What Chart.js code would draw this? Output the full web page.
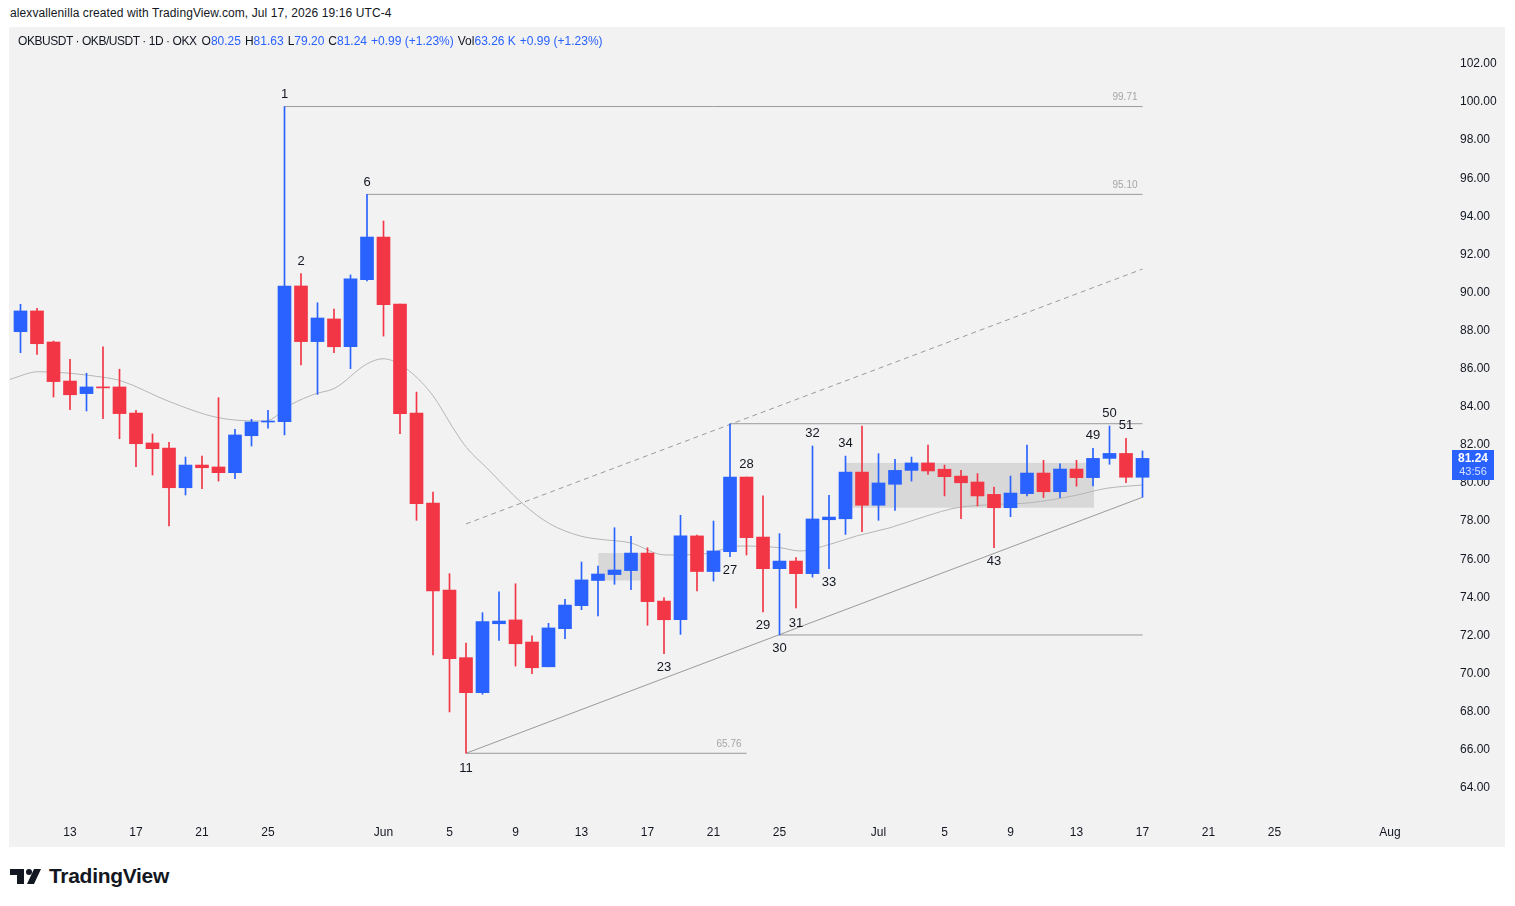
<!DOCTYPE html>
<html><head><meta charset="utf-8">
<script src="https://cdn.jsdelivr.net/npm/chart.js@4.4.1/dist/chart.umd.min.js"></script>
<style>
html,body{margin:0;padding:0;background:#fff;}
body{width:1515px;height:906px;position:relative;overflow:hidden;font-family:"Liberation Sans",Arial,sans-serif;}
#credit{position:absolute;left:10px;top:6px;font-size:12px;color:#131722;white-space:pre;letter-spacing:0.1px;}
#panel{position:absolute;left:9px;top:27px;width:1496px;height:820px;background:#f2f2f2;}
#panel canvas{position:absolute;left:0;top:0;}
#legend{position:absolute;left:9px;top:7px;font-size:12px;color:#131722;white-space:pre;z-index:2;}
#legend .sym{letter-spacing:-0.45px;}
#legend .g{margin-left:5px;}
#legend .g2{margin-left:4px;}
.v{color:#2962ff;}
#logo{position:absolute;left:10px;top:864px;height:24px;display:flex;align-items:center;}
#logo span{font-size:21px;font-weight:bold;color:#131722;margin-left:7px;letter-spacing:-0.3px;}
</style></head>
<body>
<div id="credit">alexvallenilla created with TradingView.com, Jul 17, 2026 19:16 UTC-4</div>
<div id="panel">
  <canvas id="c" width="1496" height="820"></canvas>
  <div id="legend"><span class="sym">OKBUSDT · OKB/USDT · 1D · OKX</span><span class="g">O<span class="v">80.25</span></span><span class="g2">H<span class="v">81.63</span></span><span class="g2">L<span class="v">79.20</span></span><span class="g2">C<span class="v">81.24</span></span><span class="g2 v">+0.99 (+1.23%)</span><span class="g2">Vol<span class="v">63.26 K</span></span><span class="g2 v">+0.99 (+1.23%)</span></div>
</div>
<div id="logo"><svg width="32" height="17" viewBox="0 0 32 17"><rect x="0" y="1" width="14" height="6" fill="#131722"/><rect x="7" y="1" width="7" height="15" fill="#131722"/><circle cx="19" cy="4" r="3" fill="#131722"/><polygon points="24,1 31,1 24,16 17,16" fill="#131722"/></svg><span>TradingView</span></div>
<script>
// ---- data ----
const dates = ['May 10','May 11','May 12','May 13','May 14','May 15','May 16','May 17','May 18','May 19','May 20','May 21','May 22','May 23','May 24','May 25','May 26','May 27','May 28','May 29','May 30','May 31',
 'Jun 1','Jun 2','Jun 3','Jun 4','Jun 5','Jun 6','Jun 7','Jun 8','Jun 9','Jun 10','Jun 11','Jun 12','Jun 13','Jun 14','Jun 15','Jun 16','Jun 17','Jun 18','Jun 19','Jun 20','Jun 21','Jun 22','Jun 23','Jun 24','Jun 25','Jun 26','Jun 27','Jun 28','Jun 29','Jun 30',
 'Jul 1','Jul 2','Jul 3','Jul 4','Jul 5','Jul 6','Jul 7','Jul 8','Jul 9','Jul 10','Jul 11','Jul 12','Jul 13','Jul 14','Jul 15','Jul 16','Jul 17'];
const open  = [87.89,88.98,87.35,85.30,84.64,84.99,84.99,83.62,82.05,81.78,79.70,80.89,80.79,80.49,82.43,83.15,83.17,90.29,87.37,88.56,87.10,90.62,
 92.86,89.34,83.62,78.90,74.33,70.78,68.94,72.56,72.76,71.60,70.30,72.30,73.51,74.83,75.14,75.35,76.27,73.75,72.77,77.17,75.30,76.34,80.26,77.11,75.45,75.85,75.19,78.02,78.07,80.52,
 78.78,79.88,80.61,81.00,80.67,80.31,80.00,79.35,78.65,79.39,80.47,79.49,80.68,80.23,81.24,81.50,80.25];
const high  = [89.33,89.12,87.40,86.44,85.71,87.09,85.92,83.76,82.52,82.08,81.31,81.36,84.43,82.77,83.29,83.76,99.71,90.94,89.41,89.08,90.87,95.10,
 93.70,89.34,84.72,79.47,75.19,71.55,73.14,74.24,74.66,71.92,72.58,73.84,75.80,75.59,77.60,77.15,76.55,73.93,78.25,77.22,77.95,83.06,80.26,79.27,77.29,76.03,81.89,79.30,81.36,82.94,
 81.49,81.19,81.31,81.94,80.89,80.61,80.44,79.74,80.31,81.94,81.14,80.96,81.14,81.77,82.94,82.29,81.63];
const low   = [86.79,86.70,84.46,83.80,83.73,83.32,82.27,80.80,80.37,77.69,79.32,79.65,80.05,80.17,81.89,82.82,82.47,86.14,84.60,86.79,85.95,90.55,
 87.66,82.54,77.99,70.92,67.93,65.76,68.86,71.69,70.34,69.94,70.30,71.77,73.30,72.97,74.63,74.35,72.48,70.99,72.00,74.28,74.80,76.08,76.17,73.18,71.97,73.39,75.01,75.45,77.25,77.39,
 77.99,78.51,80.05,80.40,79.27,78.07,78.74,76.55,78.18,79.27,79.18,79.18,79.78,79.79,80.93,79.96,79.20];
const close = [88.98,87.26,85.27,84.58,84.99,84.94,83.59,82.01,81.75,79.70,80.89,80.75,80.49,82.47,83.15,83.20,90.29,87.37,88.61,87.10,90.66,92.86,
 89.31,83.59,78.86,74.28,70.72,68.94,72.67,72.70,71.51,70.25,72.34,73.54,74.86,75.17,75.38,76.27,73.72,72.77,77.17,75.30,76.38,80.26,77.08,75.45,75.85,75.19,78.06,78.16,80.52,78.78,
 79.95,80.61,81.00,80.58,80.28,79.96,79.27,78.65,79.42,80.47,79.49,80.68,80.23,81.24,81.50,80.25,81.24];
const firstDay = -3;            // day number of the first candle (May 13 = 0)
const xTickDays   = [0,4,8,12,19,23,27,31,35,39,43,49,53,57,61,65,69,73,80];
const xTickLabels = ['13','17','21','25','Jun','5','9','13','17','21','25','Jul','5','9','13','17','21','25','Aug'];
const yTicks = [64,66,68,70,72,74,76,78,80,82,84,86,88,90,92,94,96,98,100,102];
// moving average
const maDays   = [-3.64,-1.92,1.92,3.13,5.94,8.97,11.82,13.44,14.85,16.06,17.98,18.97,20.30,21.92,23.33,24.04,25.25,27.45,29.09,30.91,32.12,33.94,36.06,38.36,40.6,43.03,44.24,46.06,47.68,49.7,51.92,53.74,56.36,58.18,60.79,62.83,64.95];
const maValues = [85.39,85.79,85.51,85.30,84.25,83.38,83.20,84.09,84.62,84.93,86.19,86.47,86.00,84.62,82.68,81.80,80.75,78.85,77.80,77.17,76.99,76.81,76.17,76.22,76.64,76.55,76.38,76.73,77.17,77.60,78.22,78.65,78.83,78.91,79.27,79.67,79.84];
// drawings
const levelPrices = [99.71, 95.10, 65.76, 83.06, 71.97];
const levelFrom   = [13, 18, 24, 40, 43];
const levelTo     = [65, 65, 41, 65, 65];
const levelTagged = [true, true, true, false, false];
const supportLine = [[24, 65.76], [65, 79.20]];
const channelLine = [[24, 77.80], [65, 91.18]];
const boxDays   = [[32.02, 34.6], [47.03, 62.06]];
const boxPrices = [[74.83, 76.27], [78.65, 81.00]];
const markTexts  = ['1','2','6','11','23','27','28','29','30','31','32','33','34','43','49','50','51'];
const markDays   = [13,14,18,24,36,40,41,42,43,44,45,46,47,56,62,63,64];
const markPrices = [100.37,91.60,95.75,64.99,70.29,75.38,80.94,72.49,71.29,72.60,82.57,74.75,82.05,75.85,82.47,83.62,82.99];
const lastPrice = 81.24, countdown = '43:56';

// ---- chart ----
const UP = '#2962ff', DOWN = '#f23645', GREY = '#9a9a9a';
const colors = open.map((o,i) => close[i] >= o ? UP : DOWN);
const xs = dates.map((_,i) => i + firstDay);

const lineDs = (pts, extra) => Object.assign({
  type:'line', data: pts.map(p => ({x:p[0], y:p[1]})), borderColor: GREY, borderWidth:1,
  pointRadius:0, fill:false, tension:0, order:3 }, extra || {});

const datasets = [
  { type:'bar', data: xs.map((x,i)=>({x, y:[open[i], close[i]]})), backgroundColor: colors,
    barThickness:13, grouped:false, minBarLength:1, borderWidth:0, order:0 },
  { type:'bar', data: xs.map((x,i)=>({x, y:[low[i], high[i]]})), backgroundColor: colors,
    barThickness:1, grouped:false, borderWidth:0, order:1 },
  { type:'line', data: maDays.map((d,i)=>({x:d, y:maValues[i]})), borderColor:'#b5b5b5', borderWidth:1,
    pointRadius:0, fill:false, cubicInterpolationMode:'monotone', order:4 },
  lineDs(supportLine),
  lineDs(channelLine, {borderDash:[5,4]}),
];
levelPrices.forEach((p,i) => datasets.push(lineDs([[levelFrom[i], p], [levelTo[i], p]])));

const drawings = {
  id:'drawings',
  beforeDatasetsDraw(chart){
    const {ctx, scales:{x, y}} = chart;
    ctx.save();
    ctx.fillStyle = 'rgba(190,190,190,0.5)';
    boxDays.forEach((d,i) => {
      const x0 = x.getPixelForValue(d[0]), x1 = x.getPixelForValue(d[1]);
      const y0 = y.getPixelForValue(boxPrices[i][1]), y1 = y.getPixelForValue(boxPrices[i][0]);
      ctx.fillRect(x0, y0, x1 - x0, y1 - y0);
    });
    ctx.restore();
  },
  afterDatasetsDraw(chart){
    const {ctx, scales:{x, y}} = chart;
    ctx.save();
    ctx.fillStyle = '#131722';
    ctx.font = '13px "Liberation Sans", Arial, sans-serif';
    ctx.textAlign = 'center'; ctx.textBaseline = 'middle';
    markTexts.forEach((t,i) => ctx.fillText(t, x.getPixelForValue(markDays[i]), y.getPixelForValue(markPrices[i])));
    ctx.fillStyle = '#a5a5a5';
    ctx.font = '10px "Liberation Sans", Arial, sans-serif';
    ctx.textAlign = 'right';
    levelPrices.forEach((p,i) => {
      if (!levelTagged[i]) return;
      ctx.fillText(p.toFixed(2), x.getPixelForValue(levelTo[i]) - 5, y.getPixelForValue(p) - 9);
    });
    ctx.restore();
  },
  afterDraw(chart){
    const {ctx, chartArea, scales:{y}} = chart;
    const py = y.getPixelForValue(lastPrice);
    const bx = chartArea.right + 7;
    ctx.save();
    ctx.fillStyle = UP;
    ctx.fillRect(bx, Math.round(py - 8), 42, 30);
    ctx.textAlign = 'center'; ctx.textBaseline = 'middle';
    ctx.fillStyle = '#ffffff';
    ctx.font = 'bold 12px "Liberation Sans", Arial, sans-serif';
    ctx.fillText(lastPrice.toFixed(2), bx + 21, py);
    ctx.fillStyle = 'rgba(255,255,255,0.8)';
    ctx.font = '11px "Liberation Sans", Arial, sans-serif';
    ctx.fillText(countdown, bx + 21, py + 14);
    ctx.restore();
  }
};

new Chart(document.getElementById('c'), {
  type:'bar',
  data:{ datasets },
  options:{
    responsive:false, animation:false, devicePixelRatio:1,
    layout:{ padding:0 },
    plugins:{ legend:{display:false}, tooltip:{enabled:false}, title:{display:false} },
    scales:{
      x:{ type:'linear', position:'bottom', min:-3.697, max:83.333, offset:false,
          grid:{display:false, drawTicks:false}, border:{display:false},
          afterBuildTicks: s => { s.ticks = xTickDays.map(v => ({value:v})); },
          afterFit: s => { s.height = 32; s.paddingLeft = 0; s.paddingRight = 0; },
          ticks:{ autoSkip:false, maxRotation:0, padding:10, color:'#131722',
                  font:{ size:12, family:'"Liberation Sans", Arial, sans-serif' },
                  callback: v => { const k = xTickDays.indexOf(v); return k < 0 ? '' : xTickLabels[k]; } } },
      y:{ type:'linear', position:'right', min:62.52, max:103.885,
          grid:{display:false, drawTicks:false}, border:{display:false},
          afterBuildTicks: s => { s.ticks = yTicks.map(v => ({value:v})); },
          afterFit: s => { s.width = 60; s.paddingTop = 0; s.paddingBottom = 0; },
          ticks:{ padding:15, labelOffset:1, color:'#131722', crossAlign:'near',
                  font:{ size:12, family:'"Liberation Sans", Arial, sans-serif' },
                  callback: v => Number(v).toFixed(2) } }
    }
  },
  plugins:[drawings]
});
</script>
</body></html>
